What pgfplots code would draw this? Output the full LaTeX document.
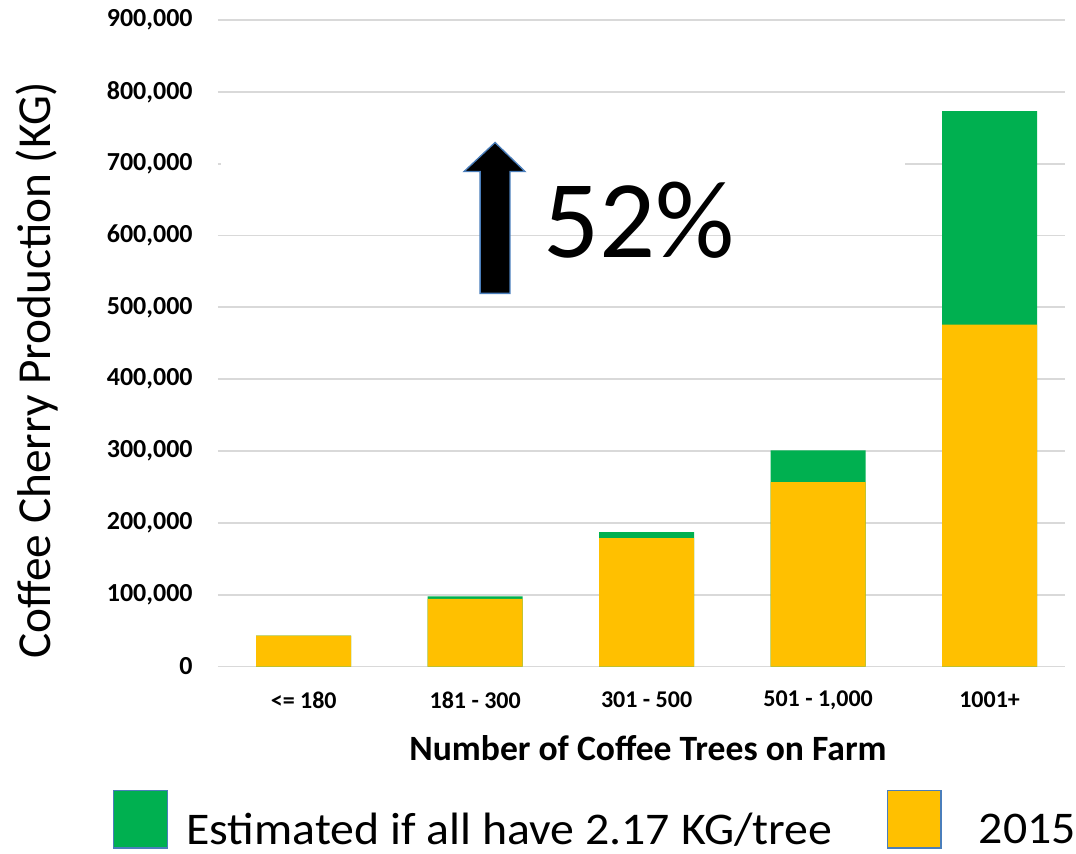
\documentclass[border=0pt]{standalone}
\usepackage{graphicx}
\usepackage{pgfplots}
\pgfplotsset{compat=1.18}
\usepackage{fontspec}
\setmainfont{Carlito}
\definecolor{xlgreen}{HTML}{00B050}
\definecolor{xlyellow}{HTML}{FFC000}
\definecolor{xlblue}{HTML}{4A7EBB}
\definecolor{gridgray}{HTML}{D9D9D9}
\begin{document}
\begin{tikzpicture}
\begin{axis}[
  name=main,
  at={(0,0)}, anchor=south west,
  scale only axis,
  width=635.25pt, height=484.9pt,
  xmin=-0.5, xmax=4.44,
  ymin=0, ymax=900000,
  ytick={0,100000,200000,300000,400000,500000,600000,700000,800000,900000},
  xtick={0,1,2,3,4},
  xticklabels={{<= 180},{181 - 300},{301 - 500},{501 - 1,000},{1001+}},
  ymajorgrids,
  grid style={gridgray, line width=1.4pt},
  axis line style={draw=none},
  major tick length=0pt,
  scaled y ticks=false,
  /pgf/number format/assume math mode=true,
  y tick label style={/pgf/number format/fixed, /pgf/number format/1000 sep={,}, anchor=east, xshift=-15.5pt, font=\fontsize{19.5}{22}\selectfont\bfseries},
  x tick label style={anchor=center, yshift=-25pt, font=\fontsize{18}{22}\selectfont\bfseries},
  ylabel={Coffee Cherry Production (KG)},
  ylabel style={at={(axis description cs:-0.2137,0.4586)}, anchor=center, font=\fontsize{35.5}{40}\selectfont},
  xlabel={Number of Coffee Trees on Farm},
  xlabel style={at={(axis description cs:0.5077,-0.126)}, anchor=center, font=\fontsize{26.7}{30}\selectfont\bfseries},
  legend style={at={(axis description cs:-0.124,-0.237)}, anchor=west, draw=none, fill=none,
    legend columns=2, font=\fontsize{34}{40}\selectfont, inner sep=0pt,
    /tikz/every even column/.append style={column sep=39pt}},
  legend image code/.code={\draw[#1, draw=xlblue, line width=0.9pt] (0pt,-13.5pt) rectangle (40pt,29.5pt);},
]
\addplot[ybar, bar shift=0pt, bar width=0.554, fill=xlgreen, draw=none]
  coordinates {(0,43000) (1,97600) (2,187000) (3,301000) (4,773000)};
\addlegendentry{\hspace{12pt}\scalebox{1.055}[1]{Estimated if all have 2.17 KG/tree}}
\addplot[ybar, bar shift=0pt, bar width=0.554, fill=xlyellow, draw=none]
  coordinates {(0,43000) (1,94300) (2,178700) (3,256600) (4,476000)};
\addlegendentry{\hspace{26pt}\scalebox{1.055}[1]{2015}}
\fill[white] (axis cs:-0.48,650000) rectangle (axis cs:3.505,790000);
\draw[fill=black, draw=xlblue, line width=1pt]
  (axis cs:1.029,519500) -- (axis cs:1.029,689000) -- (axis cs:0.935,689000)
  -- (axis cs:1.116,729500) -- (axis cs:1.291,689000) -- (axis cs:1.203,689000)
  -- (axis cs:1.203,519500) -- cycle;
\node[anchor=base, font=\fontsize{83}{90}\selectfont, inner sep=0pt] at (axis cs:1.955,569700) {52\%};
\end{axis}
\pgfresetboundingbox
\path[use as bounding box] (main.south west) ++(-163.5pt,-140.6pt) rectangle ++(807pt,640.5pt);
\end{tikzpicture}
\end{document}
